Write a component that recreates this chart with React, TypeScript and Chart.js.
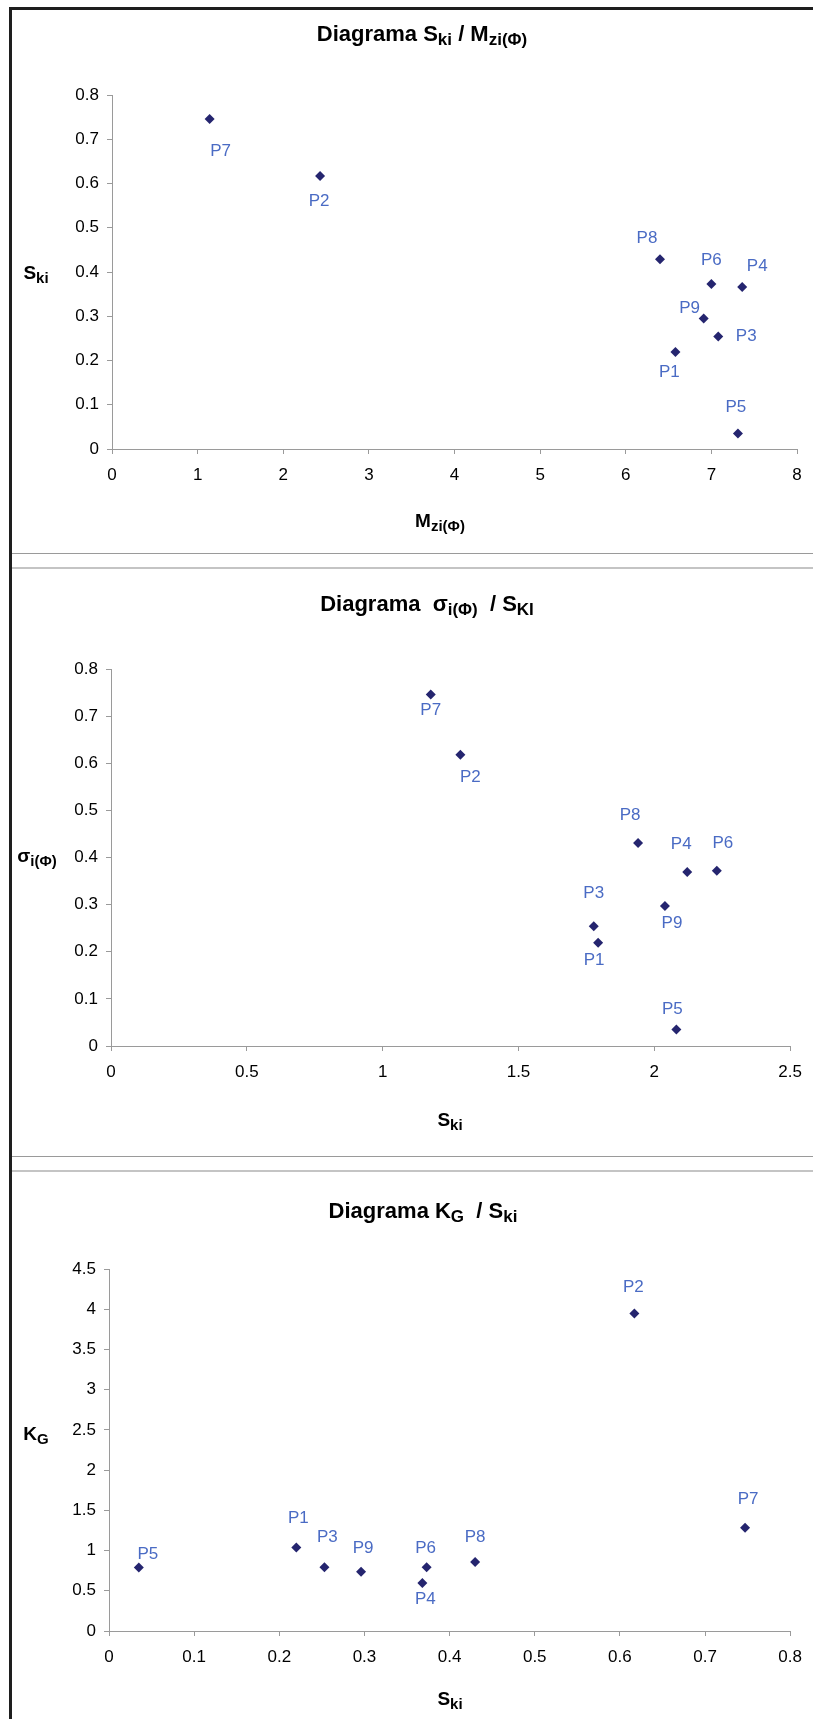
import React, { useEffect, useRef } from 'react';
import { Chart, registerables } from 'chart.js';

Chart.register(...registerables);

// ---------- data ----------
const pointNames = ['P1', 'P2', 'P3', 'P4', 'P5', 'P6', 'P7', 'P8', 'P9'];

// Chart 1: S_ki vs M_zi(Φ)
const mziValues = [6.58, 2.43, 7.08, 7.36, 7.31, 7.0, 1.14, 6.4, 6.91];
const skiValues1 = [0.219, 0.617, 0.254, 0.366, 0.035, 0.373, 0.746, 0.429, 0.295];

// Chart 2: σ_i(Φ) vs S_ki
const skiValues2 = [1.793, 1.286, 1.777, 2.121, 2.081, 2.23, 1.177, 1.94, 2.039];
const sigmaValues = [0.219, 0.618, 0.254, 0.369, 0.035, 0.372, 0.746, 0.431, 0.297];

// Chart 3: K_G vs S_ki
const skiValues3 = [0.22, 0.617, 0.253, 0.368, 0.035, 0.373, 0.747, 0.43, 0.296];
const kgValues = [1.038, 3.948, 0.793, 0.598, 0.789, 0.793, 1.283, 0.859, 0.735];

// tick labels
const xTicks1 = ['0', '1', '2', '3', '4', '5', '6', '7', '8'];
const yTicks1 = ['0', '0.1', '0.2', '0.3', '0.4', '0.5', '0.6', '0.7', '0.8'];
const xTicks2 = ['0', '0.5', '1', '1.5', '2', '2.5'];
const yTicks2 = ['0', '0.1', '0.2', '0.3', '0.4', '0.5', '0.6', '0.7', '0.8'];
const xTicks3 = ['0', '0.1', '0.2', '0.3', '0.4', '0.5', '0.6', '0.7', '0.8'];
const yTicks3 = ['0', '0.5', '1', '1.5', '2', '2.5', '3', '3.5', '4', '4.5'];

// label offsets (style: label centre relative to marker, px)
const labelOffsets1 = [[-6, 20], [-1, 25], [28, 0], [15, -21], [-2, -26], [0, -24], [11, 32], [-13, -21], [-14, -10]];
const labelOffsets2 = [[-4, 18], [10, 23], [0, -33], [-6, -28], [-4, -20], [6, -27], [0, 16], [-8, -28], [7, 17]];
const labelOffsets3 = [[2, -29], [-1, -26], [3, -30], [3, 16], [9, -13], [-1, -19], [3, -28], [0, -25], [2, -24]];

// ---------- styles ----------
const FONT = '"Liberation Sans", Arial, Helvetica, sans-serif';
const MARKER = '#25256f';
const LABEL = '#4a6bc4';
const AXIS = '#9a9a9a';

type Part = { t: string; sub?: boolean };

function drawRich(ctx: CanvasRenderingContext2D, parts: Part[], cx: number, cy: number, size: number, bold: boolean) {
  const subSize = Math.round(size * 0.78);
  const w = (bold ? 'bold ' : '');
  let total = 0;
  const widths: number[] = [];
  parts.forEach((p) => {
    ctx.font = `${w}${p.sub ? subSize : size}px ${FONT}`;
    const m = ctx.measureText(p.t).width;
    widths.push(m);
    total += m;
  });
  let x = cx - total / 2;
  const base = cy + size * 0.36;
  ctx.save();
  ctx.fillStyle = '#000';
  ctx.textAlign = 'left';
  ctx.textBaseline = 'alphabetic';
  parts.forEach((p, i) => {
    ctx.font = `${w}${p.sub ? subSize : size}px ${FONT}`;
    ctx.fillText(p.t, x, p.sub ? base + size * 0.2 : base);
    x += widths[i];
  });
  ctx.restore();
}

type PanelCfg = {
  top: number;
  height: number;
  plot: { left: number; right: number; top: number; bottom: number };
  xs: number[];
  ys: number[];
  xMin: number; xMax: number; xStep: number;
  yMin: number; yMax: number; yStep: number;
  xTicks: string[];
  yTicks: string[];
  offsets: number[][];
  title: Part[];
  titlePos: [number, number];
  xTitle: Part[];
  xTitlePos: [number, number];
  yTitle: Part[];
  yTitlePos: [number, number];
};

const WIDTH = 801;
const LEFT = 12;

const panels: PanelCfg[] = [
  {
    top: 10, height: 543,
    plot: { left: 100, right: 785, top: 85, bottom: 439 },
    xs: mziValues, ys: skiValues1,
    xMin: 0, xMax: 8, xStep: 1, yMin: 0, yMax: 0.8, yStep: 0.1,
    xTicks: xTicks1, yTicks: yTicks1, offsets: labelOffsets1,
    title: [{ t: 'Diagrama S' }, { t: 'ki', sub: true }, { t: ' / M' }, { t: 'zi(Φ)', sub: true }],
    titlePos: [410, 23],
    xTitle: [{ t: 'M' }, { t: 'zi(Φ)', sub: true }],
    xTitlePos: [428, 510],
    yTitle: [{ t: 'S' }, { t: 'ki', sub: true }],
    yTitlePos: [24, 262],
  },
  {
    top: 569, height: 587,
    plot: { left: 99, right: 784, top: 100, bottom: 477 },
    xs: skiValues2, ys: sigmaValues,
    xMin: 0, xMax: 2.5, xStep: 0.5, yMin: 0, yMax: 0.8, yStep: 0.1,
    xTicks: xTicks2, yTicks: yTicks2, offsets: labelOffsets2,
    title: [{ t: 'Diagrama  σ' }, { t: 'i(Φ)', sub: true }, { t: '  / S' }, { t: 'KI', sub: true }],
    titlePos: [415, 34],
    xTitle: [{ t: 'S' }, { t: 'ki', sub: true }],
    xTitlePos: [438, 550],
    yTitle: [{ t: 'σ' }, { t: 'i(Φ)', sub: true }],
    yTitlePos: [25, 286],
  },
  {
    top: 1172, height: 547,
    plot: { left: 97, right: 785, top: 97, bottom: 459 },
    xs: skiValues3, ys: kgValues,
    xMin: 0, xMax: 0.8, xStep: 0.1, yMin: 0, yMax: 4.5, yStep: 0.5,
    xTicks: xTicks3, yTicks: yTicks3, offsets: labelOffsets3,
    title: [{ t: 'Diagrama K' }, { t: 'G', sub: true }, { t: '  / S' }, { t: 'ki', sub: true }],
    titlePos: [411, 38],
    xTitle: [{ t: 'S' }, { t: 'ki', sub: true }],
    xTitlePos: [438, 526],
    yTitle: [{ t: 'K' }, { t: 'G', sub: true }],
    yTitlePos: [24, 261],
  },
];

function ScatterPanel({ cfg }: { cfg: PanelCfg }) {
  const ref = useRef<HTMLCanvasElement>(null);
  useEffect(() => {
    const canvas = ref.current!;
    const textPlugin = {
      id: 'richText',
      afterDraw(chart: any) {
        const ctx: CanvasRenderingContext2D = chart.ctx;
        drawRich(ctx, cfg.title, cfg.titlePos[0], cfg.titlePos[1], 22, true);
        drawRich(ctx, cfg.xTitle, cfg.xTitlePos[0], cfg.xTitlePos[1], 19, true);
        drawRich(ctx, cfg.yTitle, cfg.yTitlePos[0], cfg.yTitlePos[1], 19, true);
        const meta = chart.getDatasetMeta(0);
        ctx.save();
        ctx.font = `17px ${FONT}`;
        ctx.fillStyle = LABEL;
        ctx.textAlign = 'center';
        ctx.textBaseline = 'middle';
        meta.data.forEach((el: any, i: number) => {
          const off = cfg.offsets[i] || [0, 0];
          ctx.fillText(pointNames[i], el.x + off[0], el.y + off[1]);
        });
        ctx.restore();
      },
    };
    const H = cfg.height;
    const p = cfg.plot;
    const chart = new Chart(canvas, {
      type: 'scatter',
      data: {
        datasets: [
          {
            data: cfg.xs.map((x, i) => ({ x, y: cfg.ys[i] })),
            pointStyle: 'rectRot',
            pointRadius: 5,
            pointHoverRadius: 5,
            backgroundColor: MARKER,
            borderColor: MARKER,
            borderWidth: 0,
          },
        ],
      },
      options: {
        responsive: false,
        animation: false,
        devicePixelRatio: 1,
        events: [],
        layout: { padding: { left: 0, top: p.top, right: WIDTH - p.right, bottom: 0 } },
        plugins: { legend: { display: false }, tooltip: { enabled: false }, title: { display: false } },
        scales: {
          x: {
            type: 'linear',
            min: cfg.xMin,
            max: cfg.xMax,
            ticks: {
              stepSize: cfg.xStep,
              maxRotation: 0,
              autoSkip: false,
              padding: 11,
              color: '#000',
              font: { family: FONT, size: 17 },
              callback: (_v: any, i: number) => cfg.xTicks[i] ?? '',
            },
            grid: { display: true, drawOnChartArea: false, drawTicks: true, tickLength: 5, color: AXIS, lineWidth: 1 },
            border: { display: true, color: AXIS, width: 1 },
            afterFit: (s: any) => { s.height = H - p.bottom; },
          },
          y: {
            type: 'linear',
            min: cfg.yMin,
            max: cfg.yMax,
            ticks: {
              stepSize: cfg.yStep,
              autoSkip: false,
              padding: 8,
              color: '#000',
              font: { family: FONT, size: 17 },
              callback: (_v: any, i: number) => cfg.yTicks[i] ?? '',
            },
            grid: { display: true, drawOnChartArea: false, drawTicks: true, tickLength: 5, color: AXIS, lineWidth: 1 },
            border: { display: true, color: AXIS, width: 1 },
            afterFit: (s: any) => { s.width = p.left; },
          },
        },
      } as any,
      plugins: [textPlugin],
    });
    return () => chart.destroy();
  }, [cfg]);
  return (
    <canvas
      ref={ref}
      width={WIDTH}
      height={cfg.height}
      style={{ position: 'absolute', left: LEFT, top: cfg.top, width: WIDTH, height: cfg.height, display: 'block' }}
    />
  );
}

export default function App() {
  return (
    <div style={{ position: 'absolute', left: 0, top: 0, width: 813, height: 1719, background: '#fff', overflow: 'hidden' }}>
      {/* outer frame (left and top edges) */}
      <div style={{ position: 'absolute', left: 9, top: 7, width: 804, height: 1712, borderLeft: '3px solid #1e1e1e', borderTop: '3px solid #1e1e1e' }} />
      {/* panel separators */}
      <div style={{ position: 'absolute', left: 12, top: 553, width: 801, height: 1, background: '#9a9a9a' }} />
      <div style={{ position: 'absolute', left: 12, top: 567, width: 801, height: 2, background: '#c4c4c4' }} />
      <div style={{ position: 'absolute', left: 12, top: 1156, width: 801, height: 1, background: '#9a9a9a' }} />
      <div style={{ position: 'absolute', left: 12, top: 1170, width: 801, height: 2, background: '#c4c4c4' }} />
      {panels.map((cfg, i) => (
        <ScatterPanel key={i} cfg={cfg} />
      ))}
    </div>
  );
}
